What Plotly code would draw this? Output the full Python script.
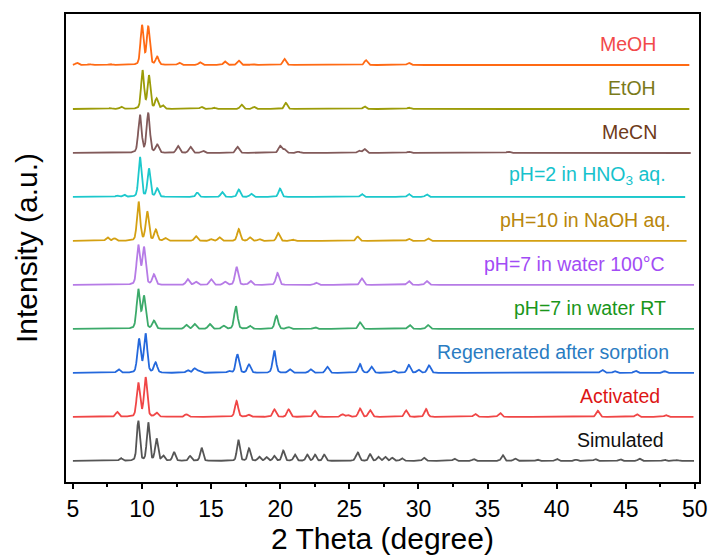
import numpy as np
import plotly.graph_objects as go

# ---------------- data (peak tables) ----------------
series_names = ["Simulated", "Activated", "Regenerated after sorption",
                "pH=7 in water RT", "pH=7 in water 100°C", "pH=10 in NaOH aq.",
                "pH=2 in HNO<sub>3</sub> aq.", "MeCN", "EtOH", "MeOH"]

# 2-theta range covered by each pattern
theta_start = [5.0, 5.0, 5.0, 5.0, 5.0, 5.0, 5.0, 5.0, 5.0, 5.0]
theta_end = [49.95, 49.9, 49.95, 49.95, 49.95, 49.4, 49.3, 49.7, 49.6, 49.6]

# peak positions (2 theta, degree) and relative intensities
sim_pos = [8.47, 9.73, 10.45, 11.05, 11.54, 12.31, 13.47, 14.31, 16.97, 17.74, 18.48,
           19.01, 19.57, 20.22, 21.06, 21.95, 22.51, 23.18, 25.5, 25.64, 26.5, 27.1,
           27.6, 28.1, 28.8, 30.4, 32.6, 34.0, 36.1, 37.0, 38.6, 40.0, 41.4, 42.8,
           44.6, 46.0, 47.8, 48.7]
sim_int = [6, 91, 87, 50, 11, 20, 11, 30, 48, 28, 9, 8, 11, 23, 14, 14, 14, 14, 7, 16,
           15, 9, 9, 7, 6, 7, 5, 4, 13, 5, 3, 5, 3, 4, 4, 5, 3, 2]

act_pos = [8.2, 9.73, 10.26, 11.05, 13.2, 16.84, 17.7, 19.57, 20.6, 22.5, 24.5, 24.9,
           25.77, 26.5, 29.1, 30.55, 34.1, 35.9, 42.97, 45.8, 47.9]
act_int = [11, 77, 89, 9, 6, 36, 5, 17, 17, 14, 6, 4, 19, 15, 15, 18, 7, 9, 14, 6, 4]

reg_pos = [8.3, 9.78, 10.26, 10.98, 13.3, 13.8, 14.1, 16.3, 16.9, 17.74, 19.57, 20.7,
           22.2, 23.4, 25.77, 26.6, 28.2, 29.3, 30.0, 30.76, 43.3, 44.2, 45.7, 47.8]
reg_int = [8, 76, 88, 23, 6, 10, 4, 4, 42, 19, 51, 8, 8, 14, 20, 14, 5, 18, 7, 17, 7, 4, 5, 4]

rt_pos = [9.73, 10.14, 10.86, 13.2, 13.8, 14.9, 15.9, 16.79, 17.8, 19.73, 20.6, 22.5,
          25.77, 29.36, 30.68]
rt_int = [89, 73, 18, 9, 11, 11, 7, 52, 7, 30, 4, 4, 15, 9, 9]

hot_pos = [9.73, 10.14, 10.86, 13.3, 13.9, 15.0, 16.0, 16.84, 17.85, 19.8, 22.6,
           25.9, 29.3, 30.6]
hot_int = [89, 84, 23, 13, 7, 13, 7, 41, 9, 27, 5, 15, 9, 9]

naoh_pos = [7.5, 8.0, 9.75, 10.38, 11.0, 11.7, 13.9, 15.0, 15.6, 17.0, 17.8, 18.5,
            19.85, 20.9, 25.6, 29.3, 30.7]
naoh_int = [8, 6, 89, 66, 25, 6, 11, 4, 8, 27, 8, 4, 18, 3, 10, 5, 6]

hno3_pos = [8.2, 8.7, 9.85, 10.5, 11.1, 14.0, 15.8, 17.0, 17.9, 19.98, 25.9, 29.3, 30.6]
hno3_int = [3, 5, 91, 64, 19, 10, 11, 17, 7, 19, 7, 7, 6]

mecn_pos = [9.85, 10.45, 11.1, 12.6, 13.5, 14.4, 16.9, 19.98, 20.3, 21.3, 25.7, 26.1,
            29.3, 36.5]
mecn_int = [86, 89, 18, 16, 14, 5, 14, 16, 8, 3, 5, 9, 3, 3]

etoh_pos = [7.7, 8.5, 10.04, 10.5, 11.05, 11.5, 14.3, 15.2, 17.2, 18.1, 20.4, 26.1, 29.3]
etoh_int = [2, 5, 87, 75, 23, 8, 5, 3, 10, 5, 14, 6, 3]

meoh_pos = [5.3, 6.2, 7.7, 10.0, 10.45, 11.1, 12.7, 14.2, 16.0, 17.0, 18.0, 20.3, 26.2, 29.3]
meoh_int = [5, 2, 2, 89, 86, 18, 5, 6, 8, 10, 2, 14, 11, 5]

peak_positions = [sim_pos, act_pos, reg_pos, rt_pos, hot_pos, naoh_pos, hno3_pos,
                  mecn_pos, etoh_pos, meoh_pos]
peak_intensities = [sim_int, act_int, reg_int, rt_int, hot_int, naoh_int, hno3_int,
                    mecn_int, etoh_int, meoh_int]

# ---------------- styles ----------------
line_colors = ["#555555", "#F04646", "#2468DC", "#3CAA6A", "#B67BE6", "#D4A012",
               "#1CC8CC", "#825A5A", "#9C9C08", "#FF6A14"]
label_colors = ["#111111", "#DD1515", "#2A7CC2", "#1A961A", "#A24CF5", "#B8860B",
                "#16C2CC", "#6E3A1A", "#7A7A1A", "#F24A4A"]
label_right = [47.91, 47.62, 48.27, 48.05, 47.98, 48.41, 48.05, 47.40, 47.33, 47.33]
peak_fwhm = [0.24, 0.27, 0.28, 0.28, 0.28, 0.27, 0.25, 0.28, 0.25, 0.26]
spacing = 100.0


def profile(x, pos, inten, fwhm):
    y = np.zeros_like(x)
    s = fwhm / 2.3548
    g = fwhm / 2.0
    for p, h in zip(pos, inten):
        gauss = np.exp(-(x - p) ** 2 / (2 * s * s))
        lor = g * g / ((x - p) ** 2 + g * g)
        y += h * (0.7 * gauss + 0.3 * lor)
    return y


fig = go.Figure()
for i, name in enumerate(series_names):
    x = np.arange(theta_start[i], theta_end[i] + 1e-9, 0.02)
    y = profile(x, peak_positions[i], peak_intensities[i], peak_fwhm[i]) + i * spacing
    fig.add_trace(go.Scatter(x=x, y=y, mode="lines", name=name,
                             line=dict(color=line_colors[i], width=1.8),
                             showlegend=False, hoverinfo="skip"))
    fig.add_annotation(x=label_right[i], y=i * spacing + 48, text=name,
                       xref="x", yref="y", xanchor="right", yanchor="middle",
                       showarrow=False,
                       font=dict(family="Liberation Sans, Arial", size=19.5,
                                 color=label_colors[i]))

fig.update_layout(
    width=710, height=559,
    margin=dict(l=66, r=11, t=14, b=77, autoexpand=False),
    paper_bgcolor="white", plot_bgcolor="white",
    font=dict(family="Liberation Sans, Arial", color="black"),
    xaxis=dict(range=[4.5, 50.3], tickmode="array",
               tickvals=[5, 10, 15, 20, 25, 30, 35, 40, 45, 50],
               ticktext=["5", "10", "15", "20", "25", "30", "35", "40", "45", "50"],
               ticks="outside", ticklen=5, tickwidth=2, tickcolor="black",
               minor=dict(tickvals=[7.5, 12.5, 17.5, 22.5, 27.5, 32.5, 37.5, 42.5, 47.5],
                          ticks="outside", ticklen=3, tickwidth=2, tickcolor="black"),
               showline=True, linewidth=2, linecolor="black", mirror=True,
               showgrid=False, zeroline=False, automargin=False,
               tickfont=dict(size=23),
               title=dict(text="2 Theta (degree)", font=dict(size=30), standoff=5)),
    yaxis=dict(range=[-48, 1016], showticklabels=False, ticks="",
               showline=True, linewidth=2, linecolor="black", mirror=True,
               showgrid=False, zeroline=False, automargin=False,
               title=dict(text="Intensity (a.u.)", font=dict(size=30), standoff=18)),
)

fig.write_html("out.html")
